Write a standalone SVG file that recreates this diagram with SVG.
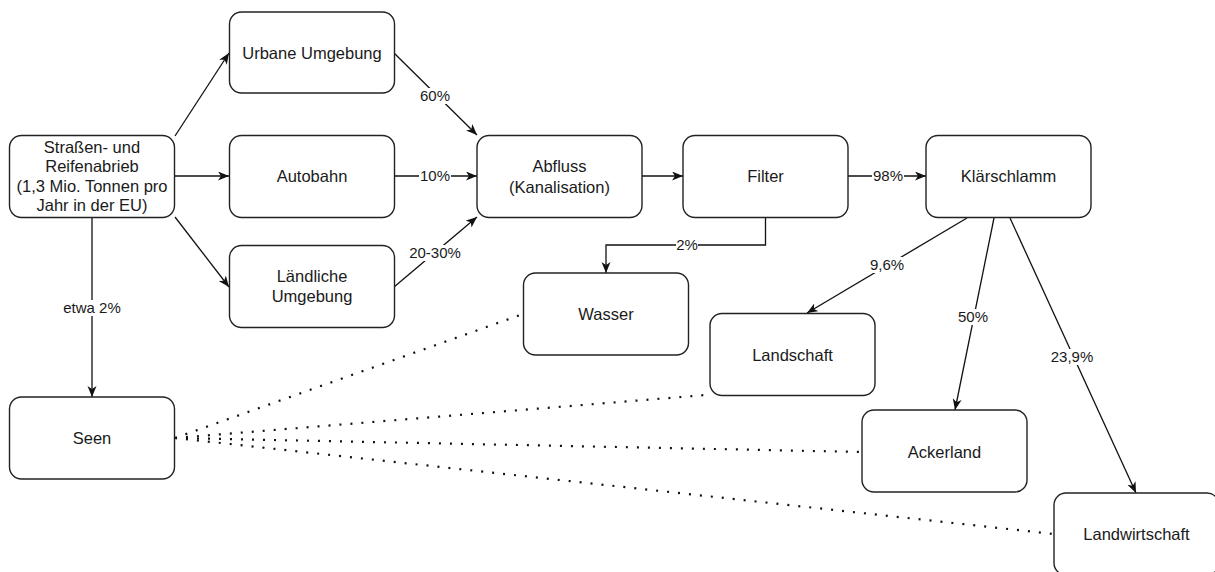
<svg xmlns="http://www.w3.org/2000/svg" width="1215" height="572" viewBox="0 0 1215 572">
<defs>
<style>
.box{fill:#fff;stroke:#222;stroke-width:1.4}
.t{font-family:"Liberation Sans",Arial,sans-serif;font-size:16.5px;fill:#1a1a1a;text-anchor:middle}
.lbl{font-family:"Liberation Sans",Arial,sans-serif;font-size:15px;fill:#1a1a1a;text-anchor:middle}
.e{fill:none;stroke:#111;stroke-width:1.3;marker-end:url(#arr)}
.d{fill:none;stroke:#111;stroke-width:2.2;stroke-dasharray:2 9}
.bg{fill:#fff}
</style>
<marker id="arr" markerUnits="userSpaceOnUse" markerWidth="12" markerHeight="10" refX="11" refY="4.5" orient="auto">
<path d="M0,0 L11,4.5 L0,9 L3,4.5 z" fill="#111"/>
</marker>
</defs>
<rect width="1215" height="572" fill="#fff"/>
<g id="connectors">
<path class="e" d="M175,136 L229,53"/>
<path class="e" d="M175,176 L229,176"/>
<path class="e" d="M175,217 L229,287"/>
<path class="e" d="M394,53 L477,135"/>
<path class="e" d="M394,176 L477,176"/>
<path class="e" d="M394,287 L477,217"/>
<path class="e" d="M642,176 L683,176"/>
<path class="e" d="M848,176 L926,176"/>
<path class="e" d="M765.5,217 L765.5,245 L606,245 L606,273"/>
<path class="e" d="M92,217 L92,397"/>
<path class="e" d="M967,218 L807,313"/>
<path class="e" d="M994,218 L955,410"/>
<path class="e" d="M1010,218 L1136,493"/>
<path class="d" d="M175,438 L523,314"/>
<path class="d" d="M175,438 L706,395"/>
<path class="d" d="M175,438 L862,452"/>
<path class="d" d="M175,438 L1054,534"/>
<g id="labels">
<rect class="bg" x="419" y="88" width="32" height="16"/><text class="lbl" x="435" y="101">60%</text>
<rect class="bg" x="419" y="168" width="32" height="16"/><text class="lbl" x="435" y="181">10%</text>
<rect class="bg" x="410" y="245" width="50" height="16"/><text class="lbl" x="435" y="258">20-30%</text>
<rect class="bg" x="872" y="168" width="32" height="16"/><text class="lbl" x="888" y="181">98%</text>
<rect class="bg" x="676" y="237" width="22" height="16"/><text class="lbl" x="687" y="250">2%</text>
<rect class="bg" x="62" y="300" width="60" height="16"/><text class="lbl" x="92" y="313">etwa 2%</text>
<rect class="bg" x="869" y="257" width="36" height="16"/><text class="lbl" x="887" y="270">9,6%</text>
<rect class="bg" x="957" y="309" width="32" height="16"/><text class="lbl" x="973" y="322">50%</text>
<rect class="bg" x="1050" y="349" width="44" height="16"/><text class="lbl" x="1072" y="362">23,9%</text>
</g>
</g>
<g id="strassen"><rect class="box" x="9.5" y="135.5" width="165" height="82" rx="12"/>
<text class="t" x="92" y="152.5">Straßen- und</text>
<text class="t" x="92" y="172">Reifenabrieb</text>
<text class="t" x="92" y="191.5">(1,3 Mio. Tonnen pro</text>
<text class="t" x="92" y="211">Jahr in der EU)</text></g>
<g id="urbane"><rect class="box" x="229.5" y="12" width="165" height="81" rx="12"/><text class="t" x="312" y="59">Urbane Umgebung</text></g>
<g id="autobahn"><rect class="box" x="229.5" y="135.5" width="165" height="82" rx="12"/><text class="t" x="312" y="182">Autobahn</text></g>
<g id="laendliche"><rect class="box" x="229.5" y="245.5" width="165" height="82" rx="12"/><text class="t" x="312" y="282">Ländliche</text><text class="t" x="312" y="302">Umgebung</text></g>
<g id="abfluss"><rect class="box" x="477" y="135.5" width="165" height="82" rx="12"/><text class="t" x="559.5" y="172">Abfluss</text><text class="t" x="559.5" y="193">(Kanalisation)</text></g>
<g id="filter"><rect class="box" x="683" y="135.5" width="165" height="82" rx="12"/><text class="t" x="765.5" y="182">Filter</text></g>
<g id="klaerschlamm"><rect class="box" x="926" y="135.5" width="165" height="82" rx="12"/><text class="t" x="1008.5" y="182">Klärschlamm</text></g>
<g id="wasser"><rect class="box" x="523.5" y="273" width="165" height="82" rx="12"/><text class="t" x="606" y="320">Wasser</text></g>
<g id="landschaft"><rect class="box" x="710" y="313.5" width="165" height="82" rx="12"/><text class="t" x="792.5" y="361">Landschaft</text></g>
<g id="ackerland"><rect class="box" x="862" y="410" width="165" height="82" rx="12"/><text class="t" x="944.5" y="458">Ackerland</text></g>
<g id="landwirtschaft"><rect class="box" x="1054" y="493" width="165" height="82" rx="12"/><text class="t" x="1136.5" y="540">Landwirtschaft</text></g>
<g id="seen"><rect class="box" x="9.5" y="397" width="165" height="82" rx="12"/><text class="t" x="92" y="444">Seen</text></g>
</svg>
